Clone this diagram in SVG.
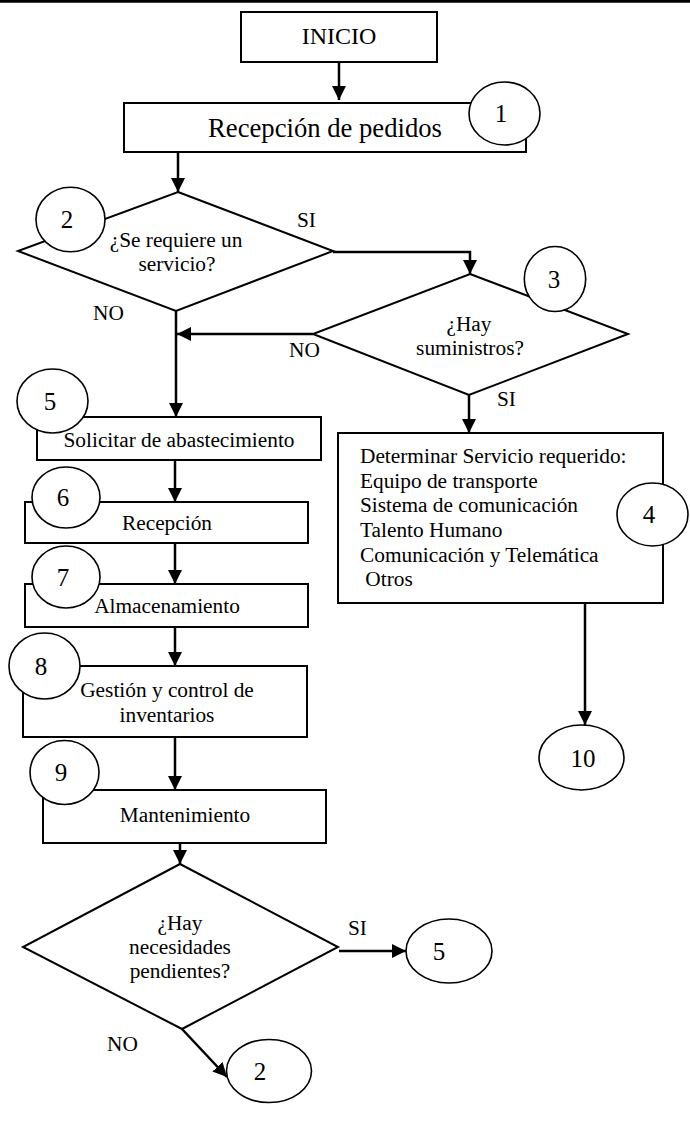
<svg xmlns="http://www.w3.org/2000/svg" width="690" height="1134" viewBox="0 0 690 1134">
<defs>
<style>
.box{fill:#fff;stroke:#000;stroke-width:2}
.dia{fill:#fff;stroke:#000;stroke-width:2}
.num{fill:#fff;stroke:#000;stroke-width:1.6}
.con{fill:none;stroke:#000;stroke-width:2.5}
text{font-family:"Liberation Serif","Times New Roman",serif;fill:#000}
.t{font-size:21.33px;text-anchor:middle}
.l{font-size:21.33px}
.n{font-size:25px;text-anchor:middle}
</style>
<marker id="ah" markerUnits="userSpaceOnUse" markerWidth="16" markerHeight="16" refX="14" refY="7" orient="auto" viewBox="0 0 16 14">
<path d="M0,0 L14,7 L0,14 Z" fill="#000"/>
</marker>
</defs>
<rect width="690" height="1134" fill="#fff"/>
<line x1="0" y1="1.3" x2="690" y2="1.3" stroke="#000" stroke-width="2.7"/>

<g id="connectors">
<path class="con" d="M339,62 L339,100" marker-end="url(#ah)"/>
<path class="con" d="M178,152 L178,192" marker-end="url(#ah)"/>
<path class="con" d="M333,252 L470,252 L470,274" marker-end="url(#ah)"/>
<path class="con" d="M313,334 L177,334" marker-end="url(#ah)"/>
<path class="con" d="M176,311 L176,417" marker-end="url(#ah)"/>
<path class="con" d="M469,395 L469,433" marker-end="url(#ah)"/>
<path class="con" d="M175,460 L175,502" marker-end="url(#ah)"/>
<path class="con" d="M175,543 L175,584" marker-end="url(#ah)"/>
<path class="con" d="M175,627 L175,666" marker-end="url(#ah)"/>
<path class="con" d="M175,737 L175,790" marker-end="url(#ah)"/>
<path class="con" d="M180,843 L180,864" marker-end="url(#ah)"/>
<path class="con" d="M339,951 L406,951" marker-end="url(#ah)"/>
<path class="con" d="M182,1029 L227,1077" marker-end="url(#ah)"/>
<path class="con" d="M585,603 L585,725" marker-end="url(#ah)"/>
</g>

<g id="inicio">
<rect class="box" x="241" y="12" width="196" height="50"/>
<text x="339" y="44" style="font-size:24px;text-anchor:middle">INICIO</text>
</g>

<g id="recepcion-pedidos">
<rect class="box" x="124" y="103" width="402" height="49"/>
<text x="325" y="137" style="font-size:26.67px;text-anchor:middle">Recepción de pedidos</text>
</g>
<g id="n1">
<ellipse class="num" cx="504.5" cy="113.5" rx="35.5" ry="31.5"/>
<text class="n" x="501" y="122">1</text>
</g>

<g id="d-servicio">
<polygon class="dia" points="178,192 333,251 176,311 18,251"/>
<text class="t" x="176" y="247">¿Se requiere un</text>
<text class="t" x="177" y="271">servicio?</text>
</g>
<g id="n2">
<ellipse class="num" cx="70.5" cy="219.5" rx="34.5" ry="32.3"/>
<text class="n" x="67" y="228">2</text>
</g>
<text class="l" x="297" y="227">SI</text>
<text class="l" x="93" y="320">NO</text>

<g id="d-suministros">
<polygon class="dia" points="470,274 628,334 469,395 313,334"/>
<text class="t" x="469" y="331">¿Hay</text>
<text class="t" x="470" y="355">suministros?</text>
</g>
<g id="n3">
<ellipse class="num" cx="555" cy="279" rx="30.7" ry="32.5"/>
<text class="n" x="554" y="288">3</text>
</g>
<text class="l" x="289" y="357">NO</text>
<text class="l" x="497" y="406">SI</text>

<g id="determinar">
<rect class="box" x="338" y="433" width="325" height="170"/>
<text class="l" x="360" y="463">Determinar Servicio requerido:</text>
<text class="l" x="360" y="488">Equipo de transporte</text>
<text class="l" x="360" y="512">Sistema de comunicación</text>
<text class="l" x="360" y="537">Talento Humano</text>
<text class="l" x="360" y="562">Comunicación y Telemática</text>
<text class="l" x="360" y="586" xml:space="preserve"> Otros</text>
</g>
<g id="n4">
<ellipse class="num" cx="652.5" cy="514.5" rx="35.5" ry="31.5"/>
<text class="n" x="649" y="523">4</text>
</g>

<g id="n10">
<ellipse class="num" cx="581.5" cy="757.5" rx="42.5" ry="32.5"/>
<text class="n" x="583" y="767">10</text>
</g>

<g id="solicitar">
<rect class="box" x="37" y="417" width="284" height="43"/>
<text class="t" x="179" y="447">Solicitar de abastecimiento</text>
</g>
<g id="n5">
<ellipse class="num" cx="52.5" cy="401" rx="35.5" ry="32"/>
<text class="n" x="50" y="410">5</text>
</g>

<g id="recepcion">
<rect class="box" x="25" y="502" width="283" height="41"/>
<text class="t" x="167" y="530">Recepción</text>
</g>
<g id="n6">
<ellipse class="num" cx="66" cy="497.5" rx="34" ry="30.5"/>
<text class="n" x="63" y="506">6</text>
</g>

<g id="almacenamiento">
<rect class="box" x="25" y="584" width="283" height="43"/>
<text class="t" x="167" y="613">Almacenamiento</text>
</g>
<g id="n7">
<ellipse class="num" cx="66" cy="577" rx="34" ry="31"/>
<text class="n" x="63" y="586">7</text>
</g>

<g id="gestion">
<rect class="box" x="23" y="666" width="284" height="71"/>
<text class="t" x="167" y="697">Gestión y control de</text>
<text class="t" x="167" y="722">inventarios</text>
</g>
<g id="n8">
<ellipse class="num" cx="44.5" cy="666" rx="35.5" ry="33"/>
<text class="n" x="41" y="675">8</text>
</g>

<g id="mantenimiento">
<rect class="box" x="43" y="790" width="283" height="53"/>
<text class="t" x="185" y="822">Mantenimiento</text>
</g>
<g id="n9">
<ellipse class="num" cx="64.5" cy="772.5" rx="34.5" ry="32"/>
<text class="n" x="61" y="781">9</text>
</g>

<g id="d-necesidades">
<polygon class="dia" points="180,864 338,947 182,1029 23,947"/>
<text class="t" x="180" y="930">¿Hay</text>
<text class="t" x="180" y="954">necesidades</text>
<text class="t" x="180" y="978">pendientes?</text>
</g>
<text class="l" x="348" y="935">SI</text>
<text class="l" x="107" y="1051">NO</text>

<g id="n5b">
<ellipse class="num" cx="449" cy="951" rx="43" ry="32"/>
<text class="n" x="439" y="960">5</text>
</g>
<g id="n2b">
<ellipse class="num" cx="269" cy="1071" rx="42.5" ry="31.5"/>
<text class="n" x="260" y="1080">2</text>
</g>
</svg>
